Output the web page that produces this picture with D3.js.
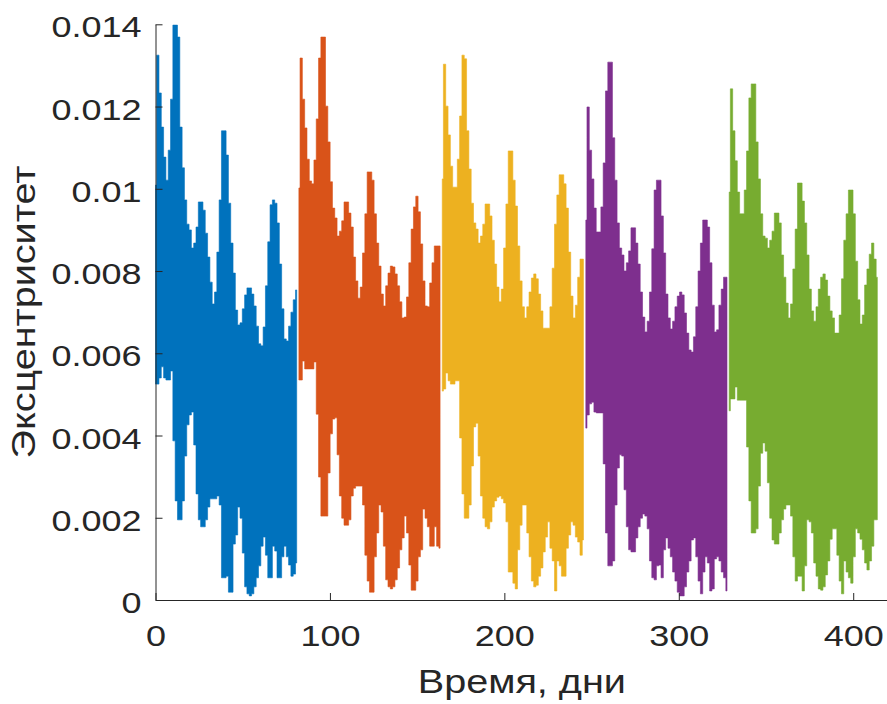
<!DOCTYPE html>
<html>
<head>
<meta charset="utf-8">
<script src="https://cdn.jsdelivr.net/npm/d3@7"></script>
<style>
  body { margin: 0; background: #ffffff; }
  svg { display: block; }
  text { font-family: "Liberation Sans", Arial, Helvetica, sans-serif; fill: #262626; }
</style>
</head>
<body>
<svg id="chart" width="887" height="704"></svg>
<script>
// Eccentricity envelope (upper / lower bound of the fast oscillation) per interval,
// one value per sample, samples spaced sampleStep days apart from segmentStart.
const sampleStep = 1.327;
const segmentStart = [0, 82.2, 164.4, 246.7, 328.9];
const segmentColors = ["#0072BD", "#D95319", "#EDB120", "#7E2F8E", "#77AC30"];

const upper1 = [0.01009, 0.01325, 0.01233, 0.01150, 0.01077, 0.01021, 0.01094, 0.01218, 0.01398, 0.01398,
  0.01369, 0.01150, 0.01051, 0.00973, 0.00914, 0.00900, 0.00856, 0.00868, 0.00907, 0.00968,
  0.00968, 0.00948, 0.00892, 0.00834, 0.00773, 0.00720, 0.00749, 0.00846, 0.00973, 0.01141,
  0.01141, 0.01082, 0.00965, 0.00868, 0.00795, 0.00705, 0.00669, 0.00674, 0.00708, 0.00742,
  0.00759, 0.00759, 0.00744, 0.00715, 0.00666, 0.00623, 0.00618, 0.00664, 0.00764, 0.00871,
  0.00961, 0.00973, 0.00965, 0.00917, 0.00817, 0.00708, 0.00635, 0.00630, 0.00666, 0.00700,
  0.00730, 0.00754];
const lower1 = [0.00525, 0.00525, 0.00540, 0.00567, 0.00540, 0.00535, 0.00535, 0.00557, 0.00387, 0.00241,
  0.00195, 0.00195, 0.00241, 0.00350, 0.00426, 0.00450, 0.00457, 0.00377, 0.00258, 0.00195,
  0.00178, 0.00178, 0.00195, 0.00226, 0.00246, 0.00246, 0.00246, 0.00253, 0.00231, 0.00054,
  0.00054, 0.00058, 0.00019, 0.00019, 0.00136, 0.00158, 0.00226, 0.00199, 0.00114, 0.00032,
  0.00015, 0.00010, 0.00015, 0.00032, 0.00054, 0.00083, 0.00131, 0.00153, 0.00109, 0.00054,
  0.00054, 0.00131, 0.00119, 0.00054, 0.00054, 0.00105, 0.00131, 0.00105, 0.00085, 0.00058,
  0.00063, 0.00090];

const upper2 = [0.01002, 0.01318, 0.01218, 0.01148, 0.01072, 0.01019, 0.01012, 0.01070, 0.01170, 0.01318,
  0.01369, 0.01369, 0.01201, 0.01114, 0.01017, 0.00953, 0.00929, 0.00885, 0.00897, 0.00922,
  0.00968, 0.00968, 0.00941, 0.00907, 0.00834, 0.00776, 0.00734, 0.00761, 0.00844, 0.00939,
  0.01041, 0.01041, 0.01021, 0.00939, 0.00868, 0.00812, 0.00744, 0.00715, 0.00764, 0.00795,
  0.00812, 0.00810, 0.00793, 0.00764, 0.00725, 0.00686, 0.00688, 0.00737, 0.00820, 0.00902,
  0.00956, 0.00982, 0.00944, 0.00866, 0.00776, 0.00715, 0.00713, 0.00771, 0.00820, 0.00861,
  0.00861, 0.00861];
const lower2 = [0.00535, 0.00535, 0.00581, 0.00562, 0.00562, 0.00562, 0.00562, 0.00579, 0.00452, 0.00299,
  0.00204, 0.00204, 0.00204, 0.00309, 0.00404, 0.00440, 0.00443, 0.00353, 0.00253, 0.00199,
  0.00182, 0.00182, 0.00195, 0.00253, 0.00272, 0.00277, 0.00277, 0.00277, 0.00231, 0.00109,
  0.00046, 0.00019, 0.00019, 0.00105, 0.00163, 0.00231, 0.00214, 0.00131, 0.00049, 0.00032,
  0.00027, 0.00032, 0.00049, 0.00078, 0.00122, 0.00151, 0.00204, 0.00163, 0.00085, 0.00024,
  0.00024, 0.00046, 0.00105, 0.00122, 0.00221, 0.00199, 0.00178, 0.00131, 0.00131, 0.00178,
  0.00131, 0.00126];

const upper3 = [0.01024, 0.01303, 0.01201, 0.01131, 0.01055, 0.01004, 0.01004, 0.01072, 0.01177, 0.01325,
  0.01316, 0.01141, 0.01048, 0.00965, 0.00917, 0.00902, 0.00868, 0.00885, 0.00914, 0.00963,
  0.00963, 0.00934, 0.00875, 0.00817, 0.00761, 0.00725, 0.00756, 0.00856, 0.00963, 0.01092,
  0.01092, 0.01021, 0.00958, 0.00861, 0.00776, 0.00713, 0.00686, 0.00713, 0.00749, 0.00783,
  0.00793, 0.00781, 0.00744, 0.00703, 0.00661, 0.00661, 0.00661, 0.00713, 0.00807, 0.00914,
  0.00985, 0.01034, 0.01034, 0.01012, 0.00953, 0.00846, 0.00739, 0.00686, 0.00717, 0.00785,
  0.00829, 0.00829];
const lower3 = [0.00508, 0.00513, 0.00552, 0.00533, 0.00525, 0.00525, 0.00533, 0.00533, 0.00394, 0.00258,
  0.00199, 0.00199, 0.00231, 0.00326, 0.00421, 0.00430, 0.00350, 0.00253, 0.00199, 0.00178,
  0.00173, 0.00190, 0.00226, 0.00241, 0.00250, 0.00253, 0.00246, 0.00236, 0.00190, 0.00068,
  0.00068, 0.00041, 0.00027, 0.00122, 0.00182, 0.00231, 0.00231, 0.00163, 0.00105, 0.00046,
  0.00032, 0.00036, 0.00058, 0.00078, 0.00117, 0.00153, 0.00190, 0.00126, 0.00095, 0.00022,
  0.00095, 0.00083, 0.00058, 0.00058, 0.00126, 0.00158, 0.00190, 0.00182, 0.00153, 0.00141,
  0.00109, 0.00146];

const upper4 = [0.00924, 0.01199, 0.01094, 0.01024, 0.00953, 0.00895, 0.00895, 0.00956, 0.01063, 0.01238,
  0.01308, 0.01308, 0.01124, 0.01021, 0.00917, 0.00856, 0.00839, 0.00800, 0.00820, 0.00849,
  0.00905, 0.00905, 0.00868, 0.00817, 0.00749, 0.00688, 0.00652, 0.00678, 0.00749, 0.00854,
  0.00997, 0.01021, 0.01021, 0.00934, 0.00844, 0.00744, 0.00686, 0.00659, 0.00678, 0.00713,
  0.00739, 0.00749, 0.00742, 0.00698, 0.00649, 0.00608, 0.00603, 0.00640, 0.00713, 0.00800,
  0.00868, 0.00924, 0.00924, 0.00907, 0.00820, 0.00717, 0.00652, 0.00657, 0.00717, 0.00756,
  0.00785, 0.00785];
const lower4 = [0.00418, 0.00450, 0.00477, 0.00481, 0.00457, 0.00455, 0.00455, 0.00455, 0.00331, 0.00163,
  0.00083, 0.00083, 0.00095, 0.00231, 0.00321, 0.00353, 0.00350, 0.00268, 0.00178, 0.00122,
  0.00117, 0.00117, 0.00151, 0.00178, 0.00199, 0.00209, 0.00204, 0.00173, 0.00095, 0.00054,
  0.00049, 0.00083, 0.00085, 0.00054, 0.00122, 0.00151, 0.00126, 0.00105, 0.00068, 0.00046,
  0.00019, 0.00010, 0.00010, 0.00032, 0.00068, 0.00095, 0.00146, 0.00151, 0.00105, 0.00046,
  0.00015, 0.00068, 0.00105, 0.00090, 0.00022, 0.00027, 0.00100, 0.00105, 0.00095, 0.00068,
  0.00054, 0.00022];

const upper5 = [0.00992, 0.01243, 0.01141, 0.01068, 0.00992, 0.00939, 0.00939, 0.00997, 0.01092, 0.01221,
  0.01255, 0.01255, 0.01114, 0.01024, 0.00939, 0.00885, 0.00880, 0.00856, 0.00875, 0.00897,
  0.00941, 0.00941, 0.00917, 0.00839, 0.00785, 0.00722, 0.00686, 0.00720, 0.00805, 0.00902,
  0.01014, 0.01014, 0.00970, 0.00917, 0.00839, 0.00756, 0.00703, 0.00678, 0.00713, 0.00756,
  0.00785, 0.00793, 0.00778, 0.00739, 0.00703, 0.00686, 0.00649, 0.00649, 0.00693, 0.00781,
  0.00875, 0.00939, 0.00997, 0.00997, 0.00939, 0.00824, 0.00730, 0.00671, 0.00693, 0.00766,
  0.00805, 0.00841, 0.00868, 0.00829, 0.00785];
const lower5 = [0.00460, 0.00489, 0.00489, 0.00518, 0.00486, 0.00486, 0.00486, 0.00486, 0.00372, 0.00241,
  0.00163, 0.00163, 0.00173, 0.00277, 0.00357, 0.00382, 0.00362, 0.00285, 0.00199, 0.00146,
  0.00136, 0.00136, 0.00163, 0.00195, 0.00221, 0.00231, 0.00231, 0.00204, 0.00105, 0.00046,
  0.00058, 0.00058, 0.00022, 0.00083, 0.00195, 0.00190, 0.00163, 0.00090, 0.00058, 0.00027,
  0.00024, 0.00032, 0.00061, 0.00095, 0.00148, 0.00173, 0.00173, 0.00109, 0.00046, 0.00015,
  0.00095, 0.00068, 0.00054, 0.00041, 0.00105, 0.00173, 0.00163, 0.00148, 0.00122, 0.00090,
  0.00073, 0.00095, 0.00131, 0.00195, 0.00195];

const upperBounds = [upper1, upper2, upper3, upper4, upper5];
const lowerBounds = [lower1, lower2, lower3, lower4, lower5];

const xTicks = [0, 100, 200, 300, 400];
const yTicks = [0, 0.002, 0.004, 0.006, 0.008, 0.01, 0.012, 0.014];
const yTickLabels = ["0", "0.002", "0.004", "0.006", "0.008", "0.01", "0.012", "0.014"];
const xTitle = "Время, дни";
const yTitle = "Эксцентриситет";

const svg = d3.select("#chart");
const x = d3.scaleLinear().domain([0, 420]).range([155.5, 888.1]);
const y = d3.scaleLinear().domain([0, 0.014]).range([600, 24.3]);

// Glyph widening used by the figure's text
const textStretch = 1.2;
const axisColor = "#262626";

// Filled envelope for each interval, stepped at the sample spacing
const plot = svg.append("g");
upperBounds.forEach((up, s) => {
  const rows = d3.zip(lowerBounds[s], up);
  const area = d3.area()
    .curve(d3.curveStep)
    .x((d, i) => x(segmentStart[s] + i * sampleStep))
    .y0(d => y(d[0]))
    .y1(d => y(d[1]));
  plot.append("path")
    .datum(rows)
    .attr("d", area)
    .attr("fill", segmentColors[s])
    .attr("stroke", segmentColors[s])
    .attr("stroke-width", 0.6)
    .attr("stroke-linejoin", "miter");
});

// Axes with inward ticks
const xAxis = d3.axisBottom(x).tickValues(xTicks).tickFormat(d3.format("d"))
  .tickSizeInner(-7).tickSizeOuter(0).tickPadding(25);
const yAxis = d3.axisLeft(y).tickValues(yTicks).tickFormat((d, i) => yTickLabels[i])
  .tickSizeInner(-7).tickSizeOuter(0).tickPadding(14);

const gx = svg.append("g").attr("transform", "translate(0,600)").call(xAxis);
const gy = svg.append("g").attr("transform", "translate(155.5,0)").call(yAxis);

[gx, gy].forEach(g => {
  g.select(".domain").attr("stroke", axisColor).attr("stroke-width", 1);
  g.selectAll(".tick line").attr("stroke", axisColor).attr("stroke-width", 1);
  g.selectAll(".tick text")
    .attr("font-family", "'Liberation Sans', Arial, sans-serif")
    .attr("font-size", 30)
    .attr("fill", axisColor);
});

// Stretch tick labels horizontally about their anchor point
gx.selectAll(".tick text").each(function () {
  const t = d3.select(this);
  const ty = +t.attr("y");
  t.attr("y", 0).attr("transform", `translate(0,${ty}) scale(${textStretch},1)`);
});
gy.selectAll(".tick text").each(function () {
  const t = d3.select(this);
  const tx = +t.attr("x");
  t.attr("x", 0).attr("transform", `translate(${tx},3) scale(${textStretch},1)`);
});

// Axis titles
svg.append("text")
  .attr("text-anchor", "middle")
  .attr("font-size", 33)
  .attr("transform", `translate(${(x.range()[0] + x.range()[1]) / 2},693) scale(${textStretch},1)`)
  .text(xTitle);

svg.append("text")
  .attr("text-anchor", "middle")
  .attr("font-size", 33)
  .attr("transform", `translate(35,${(y.range()[0] + y.range()[1]) / 2}) rotate(-90) scale(${textStretch},1)`)
  .text(yTitle);
</script>
</body>
</html>
